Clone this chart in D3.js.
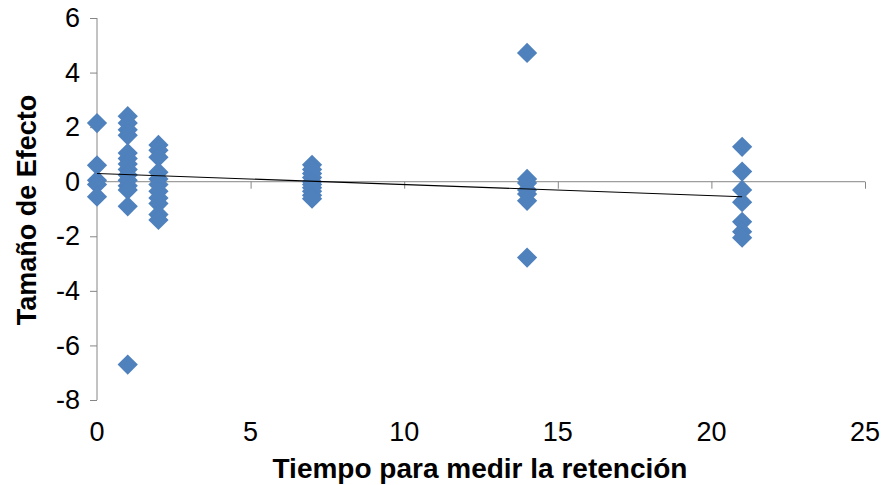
<!DOCTYPE html>
<html>
<head>
<meta charset="utf-8">
<script src="https://cdn.jsdelivr.net/npm/d3@7"></script>
<style>
  html, body { margin: 0; padding: 0; background: #fff; }
  svg { display: block; }
  text { font-family: "Liberation Sans", Arial, sans-serif; fill: #000; }
</style>
</head>
<body>
<svg id="chart" width="883" height="485"></svg>
<script>
// Retention time (days) and effect size for each study
const tiempo = [
  0, 0, 0, 0, 0,
  1, 1, 1, 1, 1, 1, 1, 1, 1, 1, 1, 1, 1, 1,
  2, 2, 2, 2, 2, 2, 2, 2, 2, 2, 2,
  7, 7, 7, 7, 7, 7, 7, 7, 7, 7,
  14, 14, 14, 14, 14, 14, 14,
  21, 21, 21, 21, 21, 21, 21
];
const efecto = [
  2.15, 0.6, 0.05, -0.1, -0.55,
  2.4, 2.15, 1.9, 1.7, 1.05, 0.85, 0.65, 0.45, 0.25, 0.05, -0.15, -0.3, -0.9, -6.7,
  1.35, 1.15, 0.9, 0.35, 0.1, -0.1, -0.35, -0.6, -0.8, -1.2, -1.4,
  0.62, 0.45, 0.3, 0.15, 0.0, -0.1, -0.22, -0.35, -0.5, -0.62,
  4.72, 0.1, -0.05, -0.3, -0.45, -0.7, -2.78,
  1.28, 0.37, -0.3, -0.75, -1.47, -1.83, -2.05
];

// Linear trend line end points
const trendX = [0, 21];
const trendY = [0.3, -0.55];

// Axis ticks
const xTicks = [0, 5, 10, 15, 20, 25];
const yTicks = [-8, -6, -4, -2, 0, 2, 4, 6];

const svg = d3.select("#chart");
const x = d3.scaleLinear().domain([0, 25]).range([97, 865]);
const y = d3.scaleLinear().domain([-8, 6]).range([400, 18]);

const axisColor = "#868686";

// Y axis (left edge of the plot)
const yAxis = svg.append("g").attr("transform", `translate(${x(0)},0)`)
  .call(d3.axisLeft(y).tickValues(yTicks).tickSize(7).tickPadding(10).tickFormat(d => String(d)));
yAxis.select(".domain").attr("stroke", axisColor).attr("d", `M0,${y(6)}V${y(-8)}`);
yAxis.selectAll(".tick line").attr("stroke", axisColor);
yAxis.selectAll(".tick text")
  .style("font-family", "'Liberation Sans', Arial, sans-serif")
  .style("font-size", "27px").attr("fill", "#000");

// X axis line crosses at y = 0, labels sit below the plot
const xAxis = svg.append("g").attr("transform", `translate(0,${y(0)})`)
  .call(d3.axisBottom(x).tickValues(xTicks).tickSize(7).tickFormat(""));
xAxis.select(".domain").attr("stroke", axisColor).attr("d", `M${x(0)},0H${x(25)}`);
xAxis.selectAll(".tick line").attr("stroke", axisColor);
xAxis.selectAll(".tick").filter(d => d === 0).select("line").remove();

svg.append("g").selectAll("text").data(xTicks).join("text")
  .attr("x", d => x(d)).attr("y", 432)
  .attr("dy", "0.35em")
  .attr("text-anchor", "middle")
  .style("font-size", "27px")
  .text(d => String(d));

// Diamond markers
const diamond = d3.symbol().type(d3.symbolSquare).size(205);
svg.append("g").selectAll("path").data(tiempo.map((t, i) => [t, efecto[i]])).join("path")
  .attr("d", diamond)
  .attr("transform", d => `translate(${x(d[0])},${y(d[1])}) rotate(45)`)
  .attr("fill", "#4F81BD");

// Trend line
svg.append("line")
  .attr("x1", x(trendX[0])).attr("y1", y(trendY[0]))
  .attr("x2", x(trendX[1])).attr("y2", y(trendY[1]))
  .attr("stroke", "#000").attr("stroke-width", 1.1);

// Axis titles
svg.append("text")
  .attr("x", 480).attr("y", 468).attr("dy", "0.35em")
  .attr("text-anchor", "middle")
  .style("font-size", "28px").style("font-weight", "bold")
  .text("Tiempo para medir la retención");

svg.append("text")
  .attr("transform", "translate(27,210) rotate(-90)")
  .attr("dy", "0.35em")
  .attr("text-anchor", "middle")
  .style("font-size", "27px").style("font-weight", "bold")
  .text("Tamaño de Efecto");
</script>
</body>
</html>
